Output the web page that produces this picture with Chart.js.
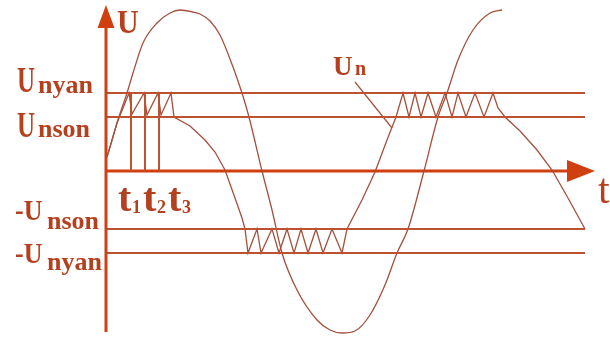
<!DOCTYPE html>
<html>
<head>
<meta charset="utf-8">
<script src="https://cdn.jsdelivr.net/npm/chart.js@4/dist/chart.umd.min.js"></script>
<style>
body { margin: 0; background: #fff; }
</style>
</head>
<body>
<canvas id="grafik" width="610" height="339"></canvas>
<script>
// Level tegangan (U) dan batas waktu (t)
var uNyan = 78, uNson = 54, uNsonNeg = -58, uNyanNeg = -82;
var levelEnd = 479;
var tMarks = [25, 39, 53];
var tickLabels = ['t1', 't2', 't3'];

// Tegangan sinus masukan
var sineT = [1, 4, 11, 21, 27, 37, 51, 64, 74, 87, 94, 104, 114, 127, 136, 143, 156, 166, 176, 191, 211, 224, 236, 249, 264, 279, 291, 302, 318, 332, 341, 352, 367, 384, 396];
var sineU = [14, 24, 48, 78, 98, 128, 148, 158, 161, 159, 157, 150, 136, 104, 78, 54, 0, -39, -82, -119, -149, -159, -162, -160, -144, -114, -82, -58, 0, 54, 78, 111, 141, 158, 161];

// Tegangan Un (gigi gergaji)
var unT = [1, 4, 11, 23, 26, 38, 41, 52, 55, 65, 68, 84, 99, 109, 119, 129, 136, 139, 142, 151, 155, 166, 173, 181, 188, 195, 202, 210, 217, 226, 236, 241, 256, 269, 281, 290, 297, 303, 309, 315, 322, 330, 339, 346, 352, 360, 369, 378, 387, 392, 399, 414, 431, 446, 462, 479];
var unU = [14, 24, 48, 78, 57, 78, 56, 78, 56, 78, 54, 45, 31, 19, 1, -27, -47, -58, -82, -58, -82, -58, -82, -58, -82, -58, -82, -58, -82, -58, -82, -58, -29, -1, 31, 54, 78, 54, 78, 54, 78, 54, 78, 54, 78, 54, 78, 54, 78, 63, 54, 40, 21, 1, -27, -58];

// Garis penunjuk label Un
var leaderT = [249, 286];
var leaderU = [89, 43];

// Sumbu
var uAxisMin = -161, uAxisTip = 166, tAxisTip = 489;

var warnaSumbu = '#cf3f10';
var warnaLevel = '#bd5230';
var warnaKurva = '#a4503c';
var warnaTeks = '#b4401e';

function pasangan(ts, us) {
    return ts.map(function (t, i) { return { x: t, y: us[i] }; });
}

function garis(points, color, width) {
    return {
        data: points,
        showLine: true,
        borderColor: color,
        borderWidth: width,
        pointRadius: 0,
        clip: false
    };
}

var datasets = [];
[uNyan, uNson, uNsonNeg, uNyanNeg].forEach(function (u) {
    datasets.push(garis([{ x: 0, y: u }, { x: levelEnd, y: u }], warnaLevel, 2));
});
tMarks.forEach(function (t) {
    datasets.push(garis([{ x: t, y: 0 }, { x: t, y: uNyan }], warnaLevel, 2));
});
var sinus = garis(pasangan(sineT, sineU), warnaKurva, 1.3);
sinus.cubicInterpolationMode = 'monotone';
datasets.push(sinus);
datasets.push(garis(pasangan(unT, unU), warnaKurva, 1.3));
datasets.push(garis(pasangan(leaderT, leaderU), warnaKurva, 1.2));

function tulis(ctx, str, x, y, font, skalaY) {
    ctx.save();
    ctx.translate(x, y);
    ctx.scale(1, skalaY || 1);
    ctx.font = font;
    ctx.fillText(str, 0, 0);
    ctx.restore();
}

var sumbuPlugin = {
    id: 'sumbu',
    beforeDatasetsDraw: function (chart) {
        var ctx = chart.ctx, sx = chart.scales.x, sy = chart.scales.y;
        var x0 = sx.getPixelForValue(0), y0 = sy.getPixelForValue(0);
        var yTip = sy.getPixelForValue(uAxisTip);
        var xTip = sx.getPixelForValue(tAxisTip);
        ctx.save();
        ctx.strokeStyle = warnaSumbu;
        ctx.fillStyle = warnaSumbu;
        ctx.lineWidth = 3;
        ctx.beginPath();
        ctx.moveTo(x0, sy.getPixelForValue(uAxisMin));
        ctx.lineTo(x0, yTip + 20);
        ctx.moveTo(x0, y0);
        ctx.lineTo(xTip - 25, y0);
        ctx.stroke();
        // panah U
        ctx.beginPath();
        ctx.moveTo(x0, yTip);
        ctx.lineTo(x0 - 8.5, yTip + 23);
        ctx.lineTo(x0 + 8.5, yTip + 23);
        ctx.closePath();
        ctx.fill();
        // panah t
        ctx.beginPath();
        ctx.moveTo(xTip, y0);
        ctx.lineTo(xTip - 28, y0 - 11);
        ctx.lineTo(xTip - 28, y0 + 11);
        ctx.closePath();
        ctx.fill();
        ctx.restore();
    },
    afterDraw: function (chart) {
        var ctx = chart.ctx, sx = chart.scales.x, sy = chart.scales.y;
        var x0 = sx.getPixelForValue(0), y0 = sy.getPixelForValue(0);
        var serif = 'Liberation Serif';
        ctx.save();
        ctx.fillStyle = warnaTeks;
        ctx.textBaseline = 'alphabetic';
        ctx.textAlign = 'left';

        var yNyan = sy.getPixelForValue(uNyan);
        var yNson = sy.getPixelForValue(uNson);
        var yNsonNeg = sy.getPixelForValue(uNsonNeg);
        var yNyanNeg = sy.getPixelForValue(uNyanNeg);

        tulis(ctx, 'U', x0 - 89, yNyan - 1, 'bold 25px ' + serif, 1.45);
        tulis(ctx, 'nyan', x0 - 68, yNyan, 'bold 26px ' + serif);
        tulis(ctx, 'U', x0 - 89, yNson + 20, 'bold 25px ' + serif, 1.45);
        tulis(ctx, 'nson', x0 - 68, yNson + 20, 'bold 26px ' + serif);

        tulis(ctx, '-U', x0 - 91, yNsonNeg - 9, 'bold 26px ' + serif, 1.15);
        tulis(ctx, 'nson', x0 - 59, yNsonNeg, 'bold 26px ' + serif);
        tulis(ctx, '-U', x0 - 91, yNyanNeg + 10, 'bold 26px ' + serif, 1.15);
        tulis(ctx, 'nyan', x0 - 59, yNyanNeg + 17, 'bold 26px ' + serif);

        // label sumbu
        tulis(ctx, 'U', x0 + 11, sy.getPixelForValue(uAxisTip) + 28, 'bold 30px ' + serif, 1.15);
        tulis(ctx, 't', sx.getPixelForValue(tAxisTip) + 3, y0 + 32, '42px ' + serif);

        // t1 t2 t3
        var posisi = [x0 + 12, x0 + 37, x0 + 62];
        tickLabels.forEach(function (lbl, i) {
            tulis(ctx, 't', posisi[i], y0 + 40, 'bold 40px ' + serif);
            tulis(ctx, lbl.charAt(1), posisi[i] + 14, y0 + 42, 'bold 18px ' + serif);
        });

        // label Un
        var lx = sx.getPixelForValue(leaderT[0]), ly = sy.getPixelForValue(leaderU[0]);
        tulis(ctx, 'U', lx - 22, ly - 7, 'bold 27px ' + serif);
        tulis(ctx, 'n', lx, ly - 7, 'bold 20px ' + serif);
        ctx.restore();
    }
};

var ctx = document.getElementById('grafik').getContext('2d');
var grafik = new Chart(ctx, {
    type: 'scatter',
    data: { datasets: datasets },
    options: {
        responsive: false,
        animation: false,
        devicePixelRatio: 1,
        layout: { padding: 0 },
        scales: {
            x: { type: 'linear', min: -106, max: 504, display: false },
            y: { type: 'linear', min: -168, max: 171, display: false }
        },
        plugins: {
            legend: { display: false },
            tooltip: { enabled: false }
        }
    },
    plugins: [sumbuPlugin]
});
</script>
</body>
</html>
